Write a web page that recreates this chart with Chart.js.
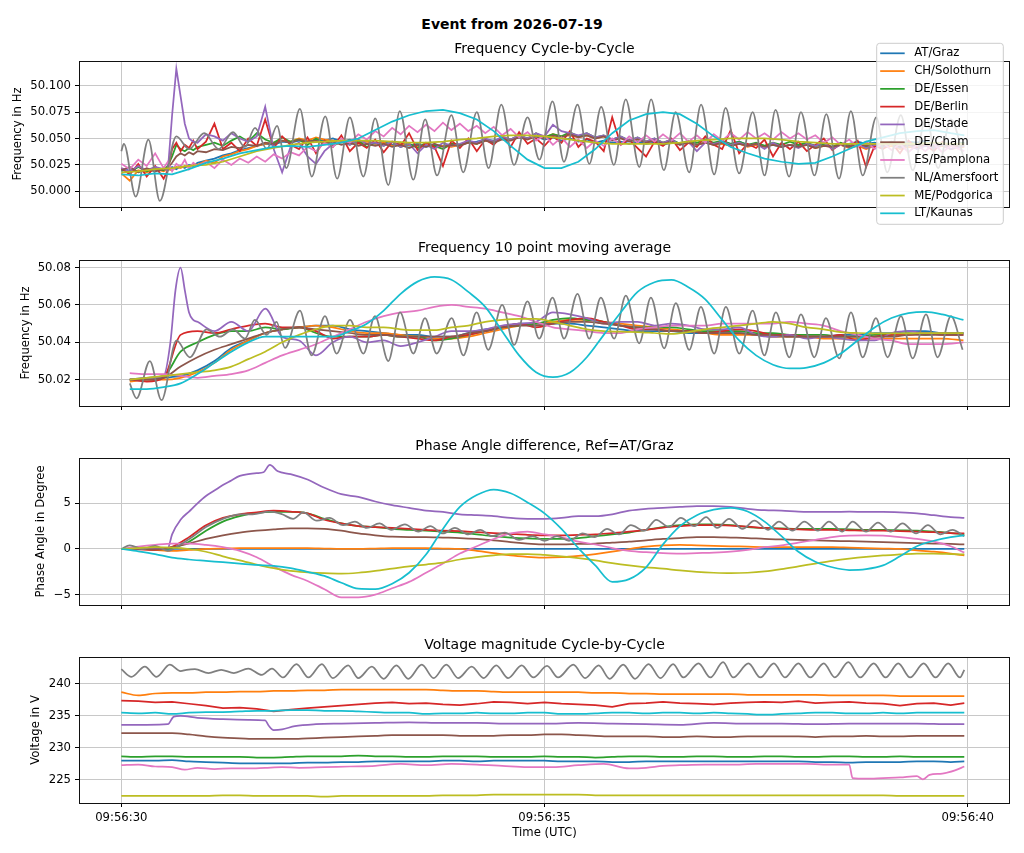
<!DOCTYPE html>
<html><head><meta charset="utf-8">
<script src="https://cdn.jsdelivr.net/npm/chart.js@4.4.1/dist/chart.umd.min.js"></script>
<style>
html,body{margin:0;padding:0;background:#fff;}
body{width:1024px;height:853px;position:relative;overflow:hidden;font-family:'DejaVu Sans',sans-serif;}
#sup{position:absolute;left:0;width:1024px;top:16px;height:16px;line-height:16px;text-align:center;font-weight:bold;font-size:14px;color:#000;}
canvas{position:absolute;left:0;}
</style></head><body>
<div id="sup">Event from 2026-07-19</div>
<canvas id="c1" width="1024" height="196" style="top:31px;width:1024px;height:196px"></canvas>
<canvas id="c2" width="1024" height="196" style="top:230px;width:1024px;height:196px"></canvas>
<canvas id="c3" width="1024" height="197" style="top:428px;width:1024px;height:197px"></canvas>
<canvas id="c4" width="1024" height="226" style="top:627px;width:1024px;height:226px"></canvas>
<script>
// ---------- categories / ticks ----------
const SERIES = ['AT/Graz','CH/Solothurn','DE/Essen','DE/Berlin','DE/Stade','DE/Cham','ES/Pamplona','NL/Amersfoort','ME/Podgorica','LT/Kaunas'];
const TAB10 = ['#1f77b4','#ff7f0e','#2ca02c','#d62728','#9467bd','#8c564b','#e377c2','#7f7f7f','#bcbd22','#17becf'];
const X_TICKS = [0, 5, 10];                       // seconds after 09:56:30
const X_LABELS = ['09:56:30','09:56:35','09:56:40'];
const Y1_TICKS = [50.000, 50.025, 50.050, 50.075, 50.100];
const Y1_LABELS = ['50.000','50.025','50.050','50.075','50.100'];
const Y2_TICKS = [50.02, 50.04, 50.06, 50.08];
const Y2_LABELS = ['50.02','50.04','50.06','50.08'];
const Y3_TICKS = [-5, 0, 5];
const Y3_LABELS = ['\u22125','0','5'];
const Y4_TICKS = [225, 230, 235, 240];
const Y4_LABELS = ['225','230','235','240'];

// ---------- shared time grids (s) ----------
const F1_T = [0,0.1,0.2,0.3,0.4,0.5,0.55,0.6,0.65,0.7,0.75,0.8,0.85,0.9,
1.0,1.1,1.2,1.3,1.4,1.5,1.6,1.7,1.8,1.9,
2.0,2.1,2.2,2.3,2.4,2.5,2.6,2.7,2.8,2.9,
3.0,3.1,3.2,3.3,3.4,3.5,3.6,3.7,3.8,3.9,
4.0,4.1,4.2,4.3,4.4,4.5,4.6,4.7,4.8,4.9,
5.0,5.1,5.2,5.3,5.4,5.5,5.6,5.7,5.8,5.9,
6.0,6.1,6.2,6.3,6.4,6.5,6.6,6.7,6.8,6.9,
7.0,7.1,7.2,7.3,7.4,7.5,7.6,7.7,7.8,7.9,
8.0,8.1,8.2,8.3,8.4,8.5,8.6,8.7,8.8,8.9,
9.0,9.1,9.2,9.3,9.4,9.5,9.6,9.7,9.8,9.96];
const T_02 = [0,0.2,0.4,0.6,0.8,1,1.2,1.4,1.6,1.8,2,2.2,2.4,2.6,2.8,3,3.2,3.4,3.6,3.8,4,4.2,4.4,4.6,4.8,
5,5.2,5.4,5.6,5.8,6,6.2,6.4,6.6,6.8,7,7.2,7.4,7.6,7.8,8,8.2,8.4,8.6,8.8,9,9.2,9.4,9.6,9.8,9.96];
const T2 = [0.1,0.3,0.5,0.7,0.9,1.1,1.3,1.5,1.7,1.9,2.1,2.3,2.5,2.7,2.9,3.1,3.3,3.5,3.7,3.9,4.1,4.3,4.5,4.7,4.9,
5.1,5.3,5.5,5.7,5.9,6.1,6.3,6.5,6.7,6.9,7.1,7.3,7.5,7.7,7.9,8.1,8.3,8.5,8.7,8.9,9.1,9.3,9.5,9.7,9.95];

// ---------- Chart 1: Frequency cycle-by-cycle (Hz) ----------
const F1_GRAZ = [50.019,50.022,50.018,50.021,50.019,50.022,50.020,50.023,50.021,50.024,50.022,50.025,50.024,50.027,
50.029,50.031,50.034,50.036,50.039,50.041,50.043,50.045,50.044,50.047,
50.046,50.048,50.047,50.049,50.048,50.050,50.047,50.049,50.046,50.048,
50.045,50.047,50.044,50.046,50.043,50.045,50.042,50.044,50.043,50.045,
50.044,50.046,50.047,50.049,50.048,50.050,50.049,50.051,50.050,50.052,
50.049,50.051,50.048,50.050,50.047,50.049,50.046,50.048,50.046,50.047,
50.045,50.047,50.045,50.046,50.044,50.046,50.045,50.047,50.044,50.046,
50.044,50.046,50.045,50.047,50.044,50.045,50.043,50.044,50.042,50.044,
50.043,50.045,50.043,50.044,50.042,50.044,50.045,50.047,50.045,50.046,
50.044,50.047,50.045,50.047,50.046,50.048,50.045,50.046,50.044,50.046];
const F1_SOLOTHURN = [50.017,50.010,50.020,50.018,50.021,50.019,50.021,50.020,50.023,50.022,50.024,50.023,50.026,50.025,
50.029,50.027,50.033,50.035,50.038,50.040,50.043,50.045,50.046,50.048,
50.047,50.050,50.048,50.051,50.049,50.048,50.046,50.048,50.045,50.047,
50.045,50.046,50.043,50.045,50.044,50.042,50.044,50.041,50.043,50.042,
50.044,50.046,50.045,50.048,50.047,50.050,50.049,50.052,50.050,50.053,
50.051,50.054,50.052,50.053,50.051,50.053,50.050,50.052,50.049,50.051,
50.048,50.050,50.047,50.049,50.046,50.048,50.045,50.047,50.044,50.046,
50.044,50.045,50.043,50.045,50.042,50.044,50.043,50.045,50.042,50.044,
50.042,50.044,50.041,50.043,50.042,50.044,50.041,50.043,50.040,50.043,
50.041,50.043,50.040,50.042,50.041,50.044,50.041,50.043,50.040,50.042];
const F1_ESSEN = [50.021,50.018,50.023,50.019,50.022,50.020,50.024,50.033,50.044,50.040,50.038,50.041,50.039,50.042,
50.044,50.046,50.043,50.048,50.052,50.047,50.055,50.049,50.046,50.051,
50.047,50.049,50.044,50.050,50.046,50.043,50.047,50.044,50.048,50.042,
50.046,50.043,50.047,50.042,50.045,50.041,50.046,50.043,50.040,50.045,
50.044,50.047,50.045,50.049,50.047,50.051,50.049,50.053,50.050,50.055,
50.051,50.054,50.052,50.056,50.052,50.055,50.051,50.053,50.049,50.052,
50.048,50.051,50.047,50.050,50.046,50.049,50.045,50.048,50.046,50.049,
50.046,50.048,50.045,50.047,50.044,50.046,50.043,50.046,50.044,50.047,
50.044,50.046,50.043,50.045,50.042,50.046,50.043,50.045,50.042,50.044,
50.043,50.046,50.044,50.047,50.044,50.046,50.043,50.045,50.044,50.046];
const F1_BERLIN = [50.022,50.016,50.026,50.014,50.024,50.012,50.020,50.040,50.046,50.038,50.044,50.041,50.048,50.040,
50.047,50.064,50.040,50.046,50.038,50.050,50.043,50.068,50.041,50.052,
50.044,50.040,50.051,50.036,50.048,50.042,50.053,50.038,50.046,50.041,
50.049,50.037,50.047,50.043,50.055,50.039,50.046,50.042,50.024,50.048,
50.041,50.050,50.038,50.049,50.044,50.053,50.042,50.056,50.045,50.050,
50.043,50.052,50.046,50.057,50.042,50.050,50.047,50.038,50.070,50.044,
50.049,50.041,50.033,50.047,50.043,50.050,50.039,50.046,50.042,50.052,
50.044,50.040,50.058,50.036,50.045,50.041,50.049,50.033,50.046,50.040,
50.047,50.038,50.044,50.050,50.039,50.045,50.042,50.048,50.023,50.043,
50.040,50.046,50.036,50.048,50.041,50.044,50.038,50.047,50.040,50.045];
const F1_STADE = [50.022,50.019,50.024,50.020,50.023,50.021,50.020,50.072,50.116,50.090,50.064,50.050,50.047,50.046,
50.054,50.052,50.048,50.055,50.050,50.047,50.052,50.080,50.040,50.018,
50.042,50.046,50.033,50.026,50.038,50.045,50.048,50.044,50.049,50.045,
50.046,50.043,50.047,50.042,50.045,50.036,50.044,50.040,50.046,50.043,
50.045,50.048,50.046,50.050,50.047,50.052,50.049,50.053,50.050,50.055,
50.052,50.063,50.057,50.055,50.053,50.055,50.051,50.053,50.049,50.052,
50.048,50.051,50.047,50.050,50.046,50.049,50.044,50.047,50.038,50.046,
50.045,50.047,50.044,50.046,50.043,50.045,50.040,50.046,50.042,50.044,
50.041,50.045,50.043,50.046,50.040,50.044,50.042,50.045,50.041,50.044,
50.042,50.045,50.041,50.044,50.040,50.043,50.041,50.044,50.040,50.043];
const F1_CHAM = [50.020,50.023,50.018,50.022,50.019,50.021,50.022,50.027,50.033,50.036,50.034,50.037,50.035,50.038,
50.037,50.040,50.039,50.042,50.041,50.044,50.043,50.046,50.045,50.048,
50.046,50.049,50.047,50.048,50.045,50.047,50.044,50.046,50.043,50.045,
50.043,50.045,50.042,50.044,50.041,50.044,50.042,50.045,50.042,50.044,
50.043,50.046,50.045,50.048,50.046,50.049,50.048,50.051,50.049,50.052,
50.050,50.053,50.051,50.054,50.051,50.053,50.050,50.052,50.048,50.050,
50.047,50.049,50.046,50.048,50.045,50.047,50.044,50.046,50.044,50.046,
50.044,50.046,50.043,50.045,50.043,50.045,50.042,50.044,50.042,50.044,
50.042,50.044,50.041,50.043,50.042,50.044,50.042,50.045,50.043,50.045,
50.043,50.045,50.042,50.044,50.043,50.045,50.043,50.045,50.043,50.044];
const F1_PAMPLONA = [50.026,50.021,50.030,50.024,50.036,50.022,50.028,50.019,50.026,50.023,50.030,50.021,50.027,50.024,
50.028,50.022,50.030,50.025,50.031,50.027,50.033,50.028,50.035,50.031,
50.037,50.034,50.042,50.038,50.046,50.042,50.050,50.046,50.054,50.049,
50.057,50.052,50.060,50.054,50.062,50.056,50.063,50.057,50.065,50.058,
50.064,50.057,50.062,50.055,50.061,50.053,50.059,50.051,50.056,50.048,
50.053,50.044,50.051,50.042,50.049,50.041,50.048,50.043,50.050,50.044,
50.052,50.046,50.053,50.047,50.054,50.048,50.055,50.047,50.053,50.046,
50.054,50.048,50.055,50.049,50.056,50.050,50.055,50.049,50.056,50.050,
50.055,50.049,50.053,50.046,50.051,50.044,50.049,50.042,50.047,50.040,
50.046,50.039,50.045,50.037,50.044,50.038,50.045,50.037,50.043,50.038];
const F1_AMERSFOORT_T = [0.0,0.03,0.17,0.32,0.455,0.65,0.80,0.98,1.15,1.32,1.46,1.58,1.72,1.84,1.95,2.11,2.25,2.41,2.55,2.70,
2.86,3.00,3.155,3.29,3.45,3.59,3.73,3.90,4.04,4.20,4.34,4.49,4.64,4.80,4.94,5.095,5.23,5.39,5.53,5.67,
5.82,5.96,6.12,6.26,6.41,6.55,6.71,6.85,7.005,7.14,7.30,7.46,7.60,7.73,7.89,8.03,8.19,8.33,8.48,8.62,
8.76,8.92,9.05,9.21,9.35,9.51,9.65,9.80,9.96];
const F1_AMERSFOORT = [50.038,50.045,49.995,50.049,49.991,50.052,50.040,50.055,50.040,50.056,50.042,50.060,50.040,50.062,50.022,50.078,50.014,50.071,50.012,50.070,
50.014,50.069,50.006,50.076,50.011,50.068,50.015,50.072,50.018,50.075,50.022,50.082,50.025,50.070,50.030,50.085,50.028,50.082,50.026,50.080,
50.025,50.087,50.023,50.087,50.020,50.075,50.018,50.082,50.016,50.079,50.017,50.075,50.015,50.077,50.014,50.075,50.015,50.073,50.012,50.076,
50.015,50.070,50.018,50.072,50.020,50.070,50.022,50.068,50.030];
const F1_PODGORICA = [50.018,50.019,50.021,50.022,50.024,50.025,50.028,50.033,50.038,50.041,
50.044,50.046,50.047,50.048,50.048,50.048,50.047,50.046,50.046,50.047,
50.049,50.050,50.052,50.053,50.053,50.052,50.050,50.048,50.046,50.045,
50.045,50.045,50.045,50.046,50.048,50.049,50.050,50.050,50.050,50.049,
50.047,50.046,50.045,50.045,50.045,50.045,50.045,50.045,50.046,50.045,50.045];
const F1_KAUNAS = [50.016,50.015,50.017,50.016,50.021,50.027,50.031,50.036,50.039,50.042,
50.043,50.042,50.044,50.046,50.050,50.058,50.066,50.072,50.076,50.077,
50.074,50.068,50.057,50.043,50.030,50.022,50.022,50.028,50.040,50.055,
50.067,50.073,50.075,50.073,50.064,50.052,50.042,50.036,50.031,50.028,
50.026,50.027,50.033,50.040,50.047,50.051,50.055,50.057,50.058,50.055,50.053];

// ---------- Chart 2: 10 point moving average (Hz) ----------
const F2_GRAZ = [50.020,50.020,50.021,50.022,50.025, 50.030,50.037,50.041,50.045,50.047, 50.048,50.049,50.049,50.047,50.046,
50.045,50.044,50.044,50.043,50.043, 50.045,50.047,50.048,50.050,50.050, 50.050,50.050,50.049,50.048,50.047,
50.046,50.046,50.046,50.045,50.045, 50.045,50.045,50.044,50.043,50.043, 50.043,50.043,50.044,50.044,50.045,
50.045,50.046,50.046,50.045,50.045];
const F2_SOLOTHURN = [50.019,50.020,50.020,50.021,50.024, 50.029,50.036,50.041,50.045,50.047, 50.048,50.049,50.048,50.046,50.045,
50.045,50.044,50.043,50.042,50.042, 50.043,50.045,50.047,50.049,50.050, 50.051,50.052,50.052,50.051,50.050,
50.049,50.048,50.047,50.046,50.045, 50.044,50.044,50.044,50.043,50.043, 50.043,50.042,50.042,50.042,50.042,
50.042,50.042,50.042,50.042,50.041];
const F2_ESSEN = [50.020,50.021,50.022,50.035,50.040, 50.044,50.046,50.046,50.048,50.047, 50.048,50.045,50.043,50.043,50.043,
50.044,50.043,50.043,50.041,50.042, 50.044,50.046,50.048,50.049,50.050, 50.052,50.053,50.052,50.051,50.049,
50.048,50.048,50.048,50.047,50.046, 50.046,50.046,50.045,50.045,50.044, 50.044,50.044,50.043,50.043,50.044,
50.044,50.045,50.044,50.045,50.045];
const F2_BERLIN = [50.020,50.019,50.021,50.044,50.046, 50.045,50.047,50.049,50.050,50.048, 50.048,50.046,50.042,50.043,50.043,
50.044,50.043,50.042,50.041,50.043, 50.044,50.046,50.048,50.050,50.048, 50.050,50.052,50.053,50.051,50.049,
50.047,50.047,50.046,50.046,50.045, 50.046,50.047,50.046,50.044,50.044, 50.043,50.043,50.044,50.041,50.043,
50.044,50.044,50.045,50.044,50.044];
const F2_STADE_T = [0.1,0.3,0.5,0.58,0.64,0.70,0.75,0.80,0.85,0.9,
1.1,1.3,1.5,1.7,1.9,2.1,2.3,2.5,2.7,2.9,3.1,3.3,3.5,3.7,3.9,4.1,4.3,4.5,4.7,4.9,
5.1,5.3,5.5,5.7,5.9,6.1,6.3,6.5,6.7,6.9,7.1,7.3,7.5,7.7,7.9,8.1,8.3,8.5,8.7,8.9,9.1,9.3,9.5,9.7,9.95];
const F2_STADE = [50.020,50.021,50.022,50.040,50.068,50.080,50.068,50.056,50.052,50.051,
50.046,50.051,50.046,50.058,50.043, 50.041,50.033,50.040,50.043,50.040, 50.041,50.038,50.040,50.043,50.046,
50.046,50.047,50.049,50.050,50.051, 50.056,50.055,50.053,50.050,50.051, 50.051,50.049,50.050,50.049,50.047,
50.047,50.048,50.044,50.043,50.044, 50.042,50.043,50.042,50.041,50.041, 50.045,50.046,50.045,50.045,50.045];
const F2_CHAM = [50.020,50.020,50.021,50.027,50.032, 50.036,50.039,50.042,50.045,50.047, 50.048,50.047,50.046,50.045,50.044,
50.044,50.043,50.043,50.043,50.043, 50.045,50.046,50.048,50.049,50.049, 50.050,50.051,50.051,50.050,50.049,
50.048,50.047,50.046,50.046,50.045, 50.045,50.045,50.044,50.044,50.043, 50.043,50.043,50.043,50.043,50.043,
50.043,50.044,50.044,50.044,50.044];
const F2_PAMPLONA = [50.0235,50.023,50.023,50.022,50.021, 50.022,50.023,50.025,50.029,50.033, 50.036,50.039,50.043,50.047,50.051,
50.054,50.056,50.057,50.059,50.060, 50.059,50.058,50.056,50.054,50.051, 50.048,50.047,50.046,50.045,50.045,
50.047,50.048,50.049,50.049,50.049, 50.050,50.050,50.050,50.050,50.051, 50.050,50.049,50.046,50.044,50.042,
50.041,50.039,50.039,50.039,50.040];
const F2_AMERSFOORT_T = [0.10,0.18,0.337,0.475,0.652,0.81,1.007,1.164,1.322,1.46,1.578,1.716,1.834,1.934,2.11,2.248,2.406,2.544,2.702,2.86,
2.997,3.155,3.293,3.45,3.588,3.726,3.903,4.041,4.198,4.336,4.50,4.641,4.799,4.937,5.095,5.232,5.39,5.528,5.666,5.823,
5.961,6.119,6.257,6.414,6.552,6.71,6.848,7.005,7.143,7.301,7.459,7.597,7.734,7.892,8.03,8.188,8.325,8.483,8.621,8.759,
8.916,9.054,9.212,9.35,9.508,9.645,9.803,9.94];
const F2_AMERSFOORT = [50.018,50.010,50.030,50.009,50.041,50.032,50.047,50.043,50.047,50.042,50.052,50.044,50.051,50.037,50.057,50.033,50.054,50.034,50.052,50.034,
50.054,50.030,50.056,50.034,50.053,50.034,50.053,50.033,50.056,50.036,50.060,50.0386,50.062,50.042,50.064,50.042,50.066,50.042,50.064,50.042,
50.065,50.0395,50.064,50.0368,50.061,50.036,50.059,50.034,50.059,50.034,50.057,50.033,50.056,50.032,50.055,50.032,50.053,50.0314,50.056,50.032,
50.053,50.032,50.054,50.0314,50.055,50.032,50.054,50.036];
const F2_PODGORICA = [50.020,50.021,50.022,50.023,50.024, 50.025,50.027,50.031,50.035,50.040, 50.044,50.047,50.049,50.049,50.048,
50.048,50.047,50.0465,50.0465,50.048, 50.049,50.051,50.052,50.0525,50.0525, 50.051,50.049,50.047,50.046,50.0457,
50.0455,50.045,50.0445,50.0455,50.047, 50.048,50.049,50.050,50.051,50.050, 50.048,50.047,50.0455,50.045,50.0448,
50.0448,50.0448,50.045,50.045,50.045];
const F2_KAUNAS = [50.015,50.015,50.016,50.018,50.023, 50.029,50.035,50.040,50.043,50.043, 50.043,50.043,50.043,50.046,50.050,
50.057,50.066,50.0725,50.075,50.0735, 50.067,50.059,50.046,50.033,50.024, 50.0213,50.0238,50.032,50.044,50.056,
50.067,50.0722,50.0734,50.0695,50.063, 50.052,50.041,50.033,50.028,50.026, 50.0265,50.029,50.034,50.041,50.048,
50.053,50.0556,50.0563,50.055,50.052];

// ---------- Chart 3: Phase angle difference (deg), Ref = AT/Graz ----------
const P_GRAZ = [0,0,0,0,0, 0,0,0,0,0, 0,0,0,0,0, 0,0,0,0,0, 0,0,0,0,0, 0,0,0,0,0, 0,0,0,0,0, 0,0,0,0,0, 0,0,0,0,0, 0,0,0,0,0, 0];
const P_SOLOTHURN = [0,0,-0.1,-0.2,-0.1, 0.0,0.05,0.1,0.1,0.1, 0.1,0.1,0.05,0.0,0.0, 0.05,0.1,0.1,0.1,0.05,
0.0,-0.2,-0.45,-0.7,-0.85, -0.95,-0.9,-0.75,-0.55,-0.3, 0.0,0.25,0.4,0.45,0.4, 0.35,0.3,0.25,0.2,0.2,
0.2,0.2,0.2,0.15,0.1, 0.05,0.0,-0.15,-0.3,-0.5, -0.7];
const P_ESSEN = [0,0.0,-0.05,0.1,0.8, 2.0,3.0,3.6,3.95,4.05, 4.05,3.9,3.3,2.8,2.5, 2.4,2.2,2.1,2.0,1.9,
1.8,1.6,1.4,1.25,1.15, 1.1,1.1,1.2,1.4,1.6, 1.8,2.1,2.4,2.6,2.7, 2.7,2.6,2.4,2.3,2.25,
2.2,2.2,2.2,2.15,2.1, 2.1,2.05,2.0,1.9,1.75, 1.6];
const P_BERLIN = [0,-0.05,-0.1,0.25,1.3, 2.6,3.4,3.8,4.0,4.2, 4.1,3.9,3.2,2.8,2.5, 2.4,2.3,2.2,2.1,2.0,
1.95,1.85,1.75,1.65,1.55, 1.5,1.5,1.55,1.6,1.75, 1.9,2.1,2.35,2.5,2.6, 2.6,2.55,2.45,2.3,2.2,
2.15,2.1,2.1,2.05,2.0, 2.0,1.95,1.9,1.85,1.75, 1.7];
const P_STADE_T = [0,0.2,0.4,0.5,0.55,0.6,0.7,0.8,0.9,1.0,1.1,1.2,1.3,1.4,1.5,1.6,1.68,1.755,1.85,2.0,
2.2,2.4,2.6,2.8,3.0,3.2,3.4,3.6,3.8,4.0,4.2,4.4,4.6,4.8,5.0,5.2,5.4,5.6,5.8,6.0,
6.2,6.4,6.6,6.8,7.0,7.2,7.4,7.6,7.8,8.0,8.2,8.4,8.6,8.8,9.0,9.2,9.4,9.6,9.8,9.96];
const P_STADE = [0,0.0,0.0,0.05,0.1,1.6,3.2,4.1,5.0,5.8,6.4,7.0,7.5,8.0,8.2,8.3,8.4,9.2,8.5,8.2,
7.6,6.7,6.0,5.7,5.2,4.8,4.5,4.2,4.05,3.8,3.7,3.6,3.4,3.3,3.3,3.4,3.6,3.6,3.8,4.2,
4.4,4.5,4.6,4.7,4.7,4.6,4.4,4.25,4.2,4.1,4.05,4.05,4.1,4.05,4.05,4.0,3.9,3.7,3.5,3.4];
const P_CHAM = [0,0.0,-0.05,0.2,0.6, 1.1,1.5,1.8,2.0,2.15, 2.25,2.25,2.2,2.0,1.7, 1.5,1.35,1.3,1.3,1.25,
1.2,1.1,0.95,0.75,0.6, 0.5,0.5,0.55,0.6,0.7, 0.8,0.95,1.1,1.2,1.3, 1.3,1.25,1.2,1.1,1.05,
1.0,0.95,0.9,0.85,0.8, 0.75,0.7,0.65,0.6,0.55, 0.5];
const P_PAMPLONA = [0,0.25,0.45,0.6,0.6, 0.45,0.2,-0.2,-0.9,-1.9, -2.8,-3.5,-4.4,-5.3,-5.3, -5.0,-4.3,-3.6,-2.6,-1.6,
-0.5,0.3,1.1,1.7,1.9, 1.6,1.3,0.8,0.5,0.1, -0.2,-0.35,-0.45,-0.5,-0.45, -0.4,-0.3,-0.1,0.2,0.4,
0.7,1.0,1.3,1.45,1.5, 1.45,1.3,1.1,0.8,0.3, -0.4];
const P_AMERSFOORT_T = [0,0.1,0.25,0.4,0.55,0.7,0.85,1.0,1.2,1.4,1.55,1.755,1.9,2.03,2.15,2.31,2.46,2.62,2.76,2.90,
3.05,3.19,3.35,3.51,3.65,3.80,3.94,4.10,4.24,4.38,4.53,4.70,4.86,5.0,5.15,5.29,5.45,5.59,5.74,5.88,
6.02,6.18,6.32,6.47,6.61,6.77,6.91,7.04,7.18,7.34,7.48,7.64,7.77,7.93,8.07,8.23,8.36,8.52,8.64,8.80,
8.94,9.09,9.23,9.39,9.53,9.68,9.82,9.96];
const P_AMERSFOORT = [0,0.4,0.0,0.35,-0.2,0.5,1.4,2.4,3.3,3.8,3.8,4.1,3.8,3.3,4.0,3.1,3.4,2.6,3.0,2.3,
2.8,2.1,2.7,1.9,2.5,1.7,2.3,1.6,2.1,1.4,1.8,1.0,1.4,0.9,1.4,0.9,1.7,1.3,2.2,1.6,
2.6,2.0,3.2,2.4,3.4,2.5,3.5,2.3,3.3,2.2,3.1,2.1,3.0,2.0,3.0,2.0,3.0,1.9,3.0,1.9,
2.9,1.9,2.8,1.7,2.6,1.6,2.1,1.4];
const P_PODGORICA = [0,0.1,0.2,0.15,0.0, -0.3,-0.8,-1.25,-1.7,-2.1, -2.4,-2.55,-2.65,-2.7,-2.6, -2.4,-2.15,-1.9,-1.7,-1.5,
-1.15,-0.9,-0.7,-0.55,-0.55, -0.65,-0.8,-1.0,-1.25,-1.55, -1.8,-2.0,-2.15,-2.35,-2.5, -2.6,-2.65,-2.6,-2.45,-2.2,
-1.9,-1.6,-1.3,-1.05,-0.85, -0.7,-0.6,-0.5,-0.5,-0.55, -0.6];
const P_KAUNAS = [0,-0.25,-0.55,-0.95,-1.15, -1.3,-1.45,-1.6,-1.75,-1.85, -2.1,-2.5,-2.95,-3.7,-4.35, -4.4,-3.8,-2.6,-0.6,2.2,
4.6,5.9,6.5,6.1,5.1, 3.9,2.2,0.1,-1.8,-3.6, -3.3,-2.0,0.5,2.5,3.7, 4.3,4.5,4.1,3.0,1.4,
-0.3,-1.4,-2.0,-2.3,-2.2, -1.8,-0.8,0.3,0.9,1.3, 1.5];

// ---------- Chart 4: Voltage magnitude (V) ----------
const V_GRAZ = [228.0,228.0,228.0,228.1,227.9, 227.8,227.7,227.6,227.6,227.6, 227.6,227.7,227.7,227.8,227.8, 227.9,227.9,227.9,227.9,228.0,
228.0,227.9,228.0,228.0,228.0, 228.0,227.9,227.9,227.9,227.8, 227.8,227.9,227.9,227.9,227.9, 227.9,227.9,227.9,227.9,227.9,
227.9,227.8,227.8,227.7,227.8, 227.8,227.8,227.9,227.9,227.8, 227.9];
const V_SOLOTHURN = [238.7,238.2,238.5,238.6,238.6, 238.7,238.7,238.8,238.8,238.9, 238.9,239.0,239.0,239.1,239.1, 239.1,239.1,239.1,239.1,239.0,
238.9,238.9,238.8,238.7,238.7, 238.7,238.7,238.7,238.6,238.6, 238.5,238.5,238.4,238.4,238.4, 238.4,238.4,238.3,238.3,238.3,
238.3,238.3,238.2,238.2,238.2, 238.2,238.1,238.1,238.1,238.1, 238.1];
const V_ESSEN = [228.7,228.6,228.7,228.7,228.6, 228.6,228.6,228.6,228.5,228.5, 228.6,228.7,228.7,228.7,228.8, 228.7,228.7,228.6,228.6,228.7,
228.7,228.7,228.6,228.6,228.6, 228.7,228.6,228.6,228.5,228.6, 228.7,228.7,228.6,228.6,228.7, 228.7,228.6,228.6,228.7,228.7,
228.6,228.6,228.7,228.7,228.6, 228.6,228.7,228.6,228.6,228.6, 228.6];
const V_BERLIN = [237.4,237.3,237.1,237.2,236.9, 236.6,236.2,236.3,236.1,235.7, 236.0,236.2,236.4,236.6,236.8, 237.0,237.1,236.9,237.0,236.8,
236.7,236.9,237.2,237.1,236.9, 237.1,236.9,236.8,236.7,236.4, 236.9,237.0,237.2,237.0,236.9, 236.8,237.0,237.1,237.2,237.1,
237.3,237.0,237.1,237.2,237.0, 236.9,236.6,236.9,237.0,236.7, 237.0];
const V_STADE_T = [0,0.3,0.55,0.62,0.7,0.9,1.2,1.5,1.7,1.74,1.8,1.9,2.05,2.3,2.6,3.0,3.4,3.8,4.2,4.6,
5.0,5.4,5.8,6.2,6.6,7.0,7.4,7.8,8.2,8.6,9.0,9.4,9.8,9.96];
const V_STADE = [233.6,233.6,233.7,234.9,235.0,234.7,234.5,234.4,234.3,233.5,232.8,232.9,233.4,233.7,233.8,233.9,234.0,233.9,233.9,233.8,
233.8,233.9,233.8,233.7,233.6,233.9,233.8,233.8,233.7,233.8,233.8,233.8,233.7,233.7];
const V_CHAM = [232.3,232.3,232.3,232.3,232.1, 231.8,231.6,231.5,231.4,231.4, 231.4,231.5,231.6,231.7,231.8, 231.9,232.0,232.0,232.0,232.0,
231.9,231.9,231.9,232.0,232.0, 232.1,232.1,232.0,231.9,231.8, 231.8,231.8,231.7,231.7,231.8, 231.7,231.7,231.8,231.8,231.8,
231.8,231.7,231.8,231.8,231.9, 231.8,231.8,231.9,231.9,231.9, 231.9];
const V_PAMPLONA_T = [0,0.2,0.4,0.6,0.75,0.9,1.1,1.3,1.5,1.7,1.9,2.1,2.4,2.7,3.0,3.3,3.6,3.9,4.2,4.5,
4.8,5.1,5.4,5.7,6.0,6.2,6.4,6.6,6.9,7.2,7.5,7.8,8.1,8.4,8.6,8.64,8.8,9.0,9.2,9.4,
9.47,9.55,9.7,9.85,9.96];
const V_PAMPLONA = [227.3,227.4,227.1,227.0,226.6,226.9,226.7,226.8,226.8,226.9,227.0,226.9,227.0,227.1,227.2,227.5,227.3,227.5,227.4,227.2,
227.0,227.0,227.3,227.5,226.8,226.9,227.2,227.3,227.4,227.4,227.5,227.5,227.5,227.4,227.4,225.3,225.2,225.3,225.4,225.6,
225.1,225.8,226.0,226.5,227.1];
const V_AMERSFOORT_T = [0.0,0.12,0.278,0.416,0.573,0.70,0.77,0.87,1.03,1.18,1.33,1.50,1.66,1.78,1.91,2.07,2.21,2.37,2.50,2.68,
2.80,2.96,3.10,3.25,3.39,3.55,3.69,3.84,3.98,4.14,4.28,4.43,4.57,4.73,4.87,5.03,5.16,5.34,5.48,5.64,
5.77,5.93,6.07,6.23,6.37,6.52,6.64,6.82,6.96,7.11,7.23,7.41,7.55,7.71,7.84,8.00,8.14,8.30,8.43,8.59,
8.73,8.89,9.03,9.18,9.32,9.48,9.62,9.77,9.91,9.96];
const V_AMERSFOORT = [242.3,241.1,242.7,241.1,243.0,242.0,242.2,242.3,241.7,242.2,241.7,242.4,241.4,242.4,241.0,243.1,241.0,243.1,240.9,242.9,
240.9,242.7,240.8,242.9,240.8,243.0,240.9,243.0,240.9,242.7,240.9,242.9,240.9,242.9,241.0,242.8,241.0,243.0,240.9,242.9,
240.8,243.0,240.8,243.1,240.9,243.1,241.0,243.2,241.0,243.4,241.0,243.2,241.0,243.2,241.0,243.2,241.0,243.2,241.0,243.4,
241.0,243.2,241.0,243.2,241.0,243.2,241.0,243.2,241.0,242.2];
const V_PODGORICA = [222.5,222.5,222.5,222.5,222.5, 222.5,222.6,222.6,222.5,222.5, 222.5,222.5,222.4,222.5,222.5, 222.5,222.5,222.5,222.5,222.6,
222.6,222.6,222.7,222.7,222.7, 222.7,222.7,222.7,222.6,222.6, 222.6,222.6,222.6,222.6,222.6, 222.6,222.6,222.6,222.6,222.6,
222.6,222.6,222.6,222.6,222.6, 222.6,222.5,222.5,222.5,222.5, 222.5];
const V_KAUNAS = [235.5,235.4,235.5,235.3,235.5, 235.6,235.6,235.7,235.8,235.8, 235.9,235.9,235.8,235.8,235.7, 235.6,235.5,235.5,235.3,235.4,
235.4,235.5,235.4,235.4,235.5, 235.5,235.3,235.3,235.4,235.5, 235.5,235.4,235.5,235.5,235.4, 235.5,235.4,235.3,235.2,235.3,
235.4,235.5,235.5,235.4,235.4, 235.5,235.4,235.5,235.5,235.5, 235.5];

// ---------- helpers ----------
function xy(ts, vs) {
  const n = Math.min(ts.length, vs.length);
  const out = [];
  for (let i = 0; i < n; i++) out.push({x: ts[i], y: vs[i]});
  return out;
}

const TICK_FONT = 11.67;
const TITLE_FONT = 14;
Chart.defaults.font.family = "'DejaVu Sans', sans-serif";
Chart.defaults.font.size = TICK_FONT;
Chart.defaults.color = '#000';

const framePlugin = {
  id: 'frame',
  afterDatasetsDraw(chart) {
    const {ctx, chartArea: a} = chart;
    ctx.save();
    ctx.strokeStyle = '#111';
    ctx.lineWidth = 1;
    ctx.strokeRect(Math.round(a.left) + 0.5, Math.round(a.top) + 0.5,
                   Math.round(a.right) - Math.round(a.left) - 1, Math.round(a.bottom) - Math.round(a.top));
    ctx.restore();
  }
};

const keyPlugin = {
  id: 'seriesKey',
  afterDraw(chart, args, opts) {
    if (!opts || !opts.show) return;
    const {ctx, chartArea: a} = chart;
    const left = a.right - 133.3, top = a.top - 17.7, w = 126.6, h = 181;
    ctx.save();
    ctx.beginPath();
    const r = 3;
    ctx.moveTo(left + r, top);
    ctx.lineTo(left + w - r, top); ctx.arcTo(left + w, top, left + w, top + r, r);
    ctx.lineTo(left + w, top + h - r); ctx.arcTo(left + w, top + h, left + w - r, top + h, r);
    ctx.lineTo(left + r, top + h); ctx.arcTo(left, top + h, left, top + h - r, r);
    ctx.lineTo(left, top + r); ctx.arcTo(left, top, left + r, top, r);
    ctx.closePath();
    ctx.fillStyle = 'rgba(255,255,255,0.8)';
    ctx.fill();
    ctx.strokeStyle = '#cccccc';
    ctx.lineWidth = 1;
    ctx.stroke();
    ctx.font = TICK_FONT + "px 'DejaVu Sans', sans-serif";
    ctx.textBaseline = 'middle';
    ctx.textAlign = 'left';
    chart.data.datasets.forEach((ds, i) => {
      const y = top + 10 + i * 17.78;
      ctx.strokeStyle = ds.borderColor;
      ctx.lineWidth = 1.75;
      ctx.beginPath();
      ctx.moveTo(left + 3.5, y);
      ctx.lineTo(left + 28, y);
      ctx.stroke();
      ctx.fillStyle = '#000';
      ctx.fillText(ds.label, left + 37.5, y);
    });
    ctx.restore();
  }
};

function makeChart(id, cfg) {
  const datasets = cfg.series.map((s, i) => ({
    label: SERIES[i],
    data: xy(s.t, s.v),
    borderColor: TAB10[i],
    backgroundColor: TAB10[i],
    borderWidth: 1.75,
    pointRadius: 0,
    pointHoverRadius: 0,
    fill: false,
    tension: 0,
    cubicInterpolationMode: s.smooth ? 'monotone' : 'default',
    order: SERIES.length - i
  }));
  const gridCfg = {color: '#c8c8c8', lineWidth: 1, tickColor: '#000', tickLength: 4, tickWidth: 1, drawTicks: true};
  return new Chart(document.getElementById(id), {
    type: 'line',
    data: {datasets},
    options: {
      responsive: false,
      animation: false,
      events: [],
      layout: {padding: {left: 0, right: 14, top: 0, bottom: 0}},
      plugins: {
        legend: {display: false},
        tooltip: {enabled: false},
        title: {display: true, text: cfg.title, fullSize: false, color: '#000',
                font: {size: TITLE_FONT, weight: 'normal', lineHeight: '16px'}, padding: {top: 10, bottom: 4}},
        seriesKey: {show: !!cfg.key}
      },
      scales: {
        x: {
          type: 'linear', min: -0.5, max: 10.5, position: 'bottom',
          grid: gridCfg,
          border: {display: false},
          afterBuildTicks: sc => { sc.ticks = X_TICKS.map(v => ({value: v})); },
          afterFit: sc => { sc.height = cfg.bottom ? 50 : 20; },
          ticks: {display: !!cfg.bottom, padding: 4, maxRotation: 0, autoSkip: false, color: '#000',
                  font: {size: TICK_FONT}, callback: (v, i) => X_LABELS[i]},
          title: {display: !!cfg.bottom, text: 'Time (UTC)', color: '#000', font: {size: TICK_FONT},
                  padding: {top: 0, bottom: 13.5}}
        },
        y: {
          type: 'linear', min: cfg.yMin, max: cfg.yMax, position: 'left',
          grid: gridCfg,
          border: {display: false},
          afterBuildTicks: sc => { sc.ticks = cfg.yTicks.map(v => ({value: v})); },
          afterFit: sc => { sc.width = 79; },
          ticks: {padding: 4, color: '#000', font: {size: TICK_FONT}, callback: (v, i) => cfg.yLabels[i]},
          title: {display: true, text: cfg.yTitle, color: '#000', font: {size: TICK_FONT},
                  padding: {top: cfg.yTitlePad, bottom: 0}}
        }
      }
    },
    plugins: [framePlugin, keyPlugin]
  });
}

makeChart('c1', {
  title: 'Frequency Cycle-by-Cycle', yTitle: 'Frequency in Hz', yTitlePad: 10.7,
  yMin: 49.9852, yMax: 50.1233, yTicks: Y1_TICKS, yLabels: Y1_LABELS, key: true,
  series: [
    {t: F1_T, v: F1_GRAZ}, {t: F1_T, v: F1_SOLOTHURN}, {t: F1_T, v: F1_ESSEN}, {t: F1_T, v: F1_BERLIN},
    {t: F1_T, v: F1_STADE}, {t: F1_T, v: F1_CHAM}, {t: F1_T, v: F1_PAMPLONA},
    {t: F1_AMERSFOORT_T, v: F1_AMERSFOORT, smooth: true},
    {t: T_02, v: F1_PODGORICA}, {t: T_02, v: F1_KAUNAS}
  ]
});
makeChart('c2', {
  title: 'Frequency 10 point moving average', yTitle: 'Frequency in Hz', yTitlePad: 18.7,
  yMin: 50.0059, yMax: 50.0841, yTicks: Y2_TICKS, yLabels: Y2_LABELS,
  series: [
    {t: T2, v: F2_GRAZ, smooth: true}, {t: T2, v: F2_SOLOTHURN, smooth: true}, {t: T2, v: F2_ESSEN, smooth: true},
    {t: T2, v: F2_BERLIN, smooth: true}, {t: F2_STADE_T, v: F2_STADE, smooth: true}, {t: T2, v: F2_CHAM, smooth: true},
    {t: T2, v: F2_PAMPLONA, smooth: true}, {t: F2_AMERSFOORT_T, v: F2_AMERSFOORT, smooth: true},
    {t: T2, v: F2_PODGORICA, smooth: true}, {t: T2, v: F2_KAUNAS, smooth: true}
  ]
});
makeChart('c3', {
  title: 'Phase Angle difference, Ref=AT/Graz', yTitle: 'Phase Angle in Degree', yTitlePad: 34,
  yMin: -6.13, yMax: 9.96, yTicks: Y3_TICKS, yLabels: Y3_LABELS,
  series: [
    {t: T_02, v: P_GRAZ, smooth: true}, {t: T_02, v: P_SOLOTHURN, smooth: true}, {t: T_02, v: P_ESSEN, smooth: true},
    {t: T_02, v: P_BERLIN, smooth: true}, {t: P_STADE_T, v: P_STADE, smooth: true}, {t: T_02, v: P_CHAM, smooth: true},
    {t: T_02, v: P_PAMPLONA, smooth: true}, {t: P_AMERSFOORT_T, v: P_AMERSFOORT, smooth: true},
    {t: T_02, v: P_PODGORICA, smooth: true}, {t: T_02, v: P_KAUNAS, smooth: true}
  ]
});
makeChart('c4', {
  title: 'Voltage magnitude Cycle-by-Cycle', yTitle: 'Voltage in V', yTitlePad: 29,
  yMin: 221.4, yMax: 244.2, yTicks: Y4_TICKS, yLabels: Y4_LABELS, bottom: true,
  series: [
    {t: T_02, v: V_GRAZ, smooth: true}, {t: T_02, v: V_SOLOTHURN, smooth: true}, {t: T_02, v: V_ESSEN, smooth: true},
    {t: T_02, v: V_BERLIN}, {t: V_STADE_T, v: V_STADE, smooth: true}, {t: T_02, v: V_CHAM, smooth: true},
    {t: V_PAMPLONA_T, v: V_PAMPLONA, smooth: true}, {t: V_AMERSFOORT_T, v: V_AMERSFOORT, smooth: true},
    {t: T_02, v: V_PODGORICA, smooth: true}, {t: T_02, v: V_KAUNAS, smooth: true}
  ]
});
</script>
</body></html>
